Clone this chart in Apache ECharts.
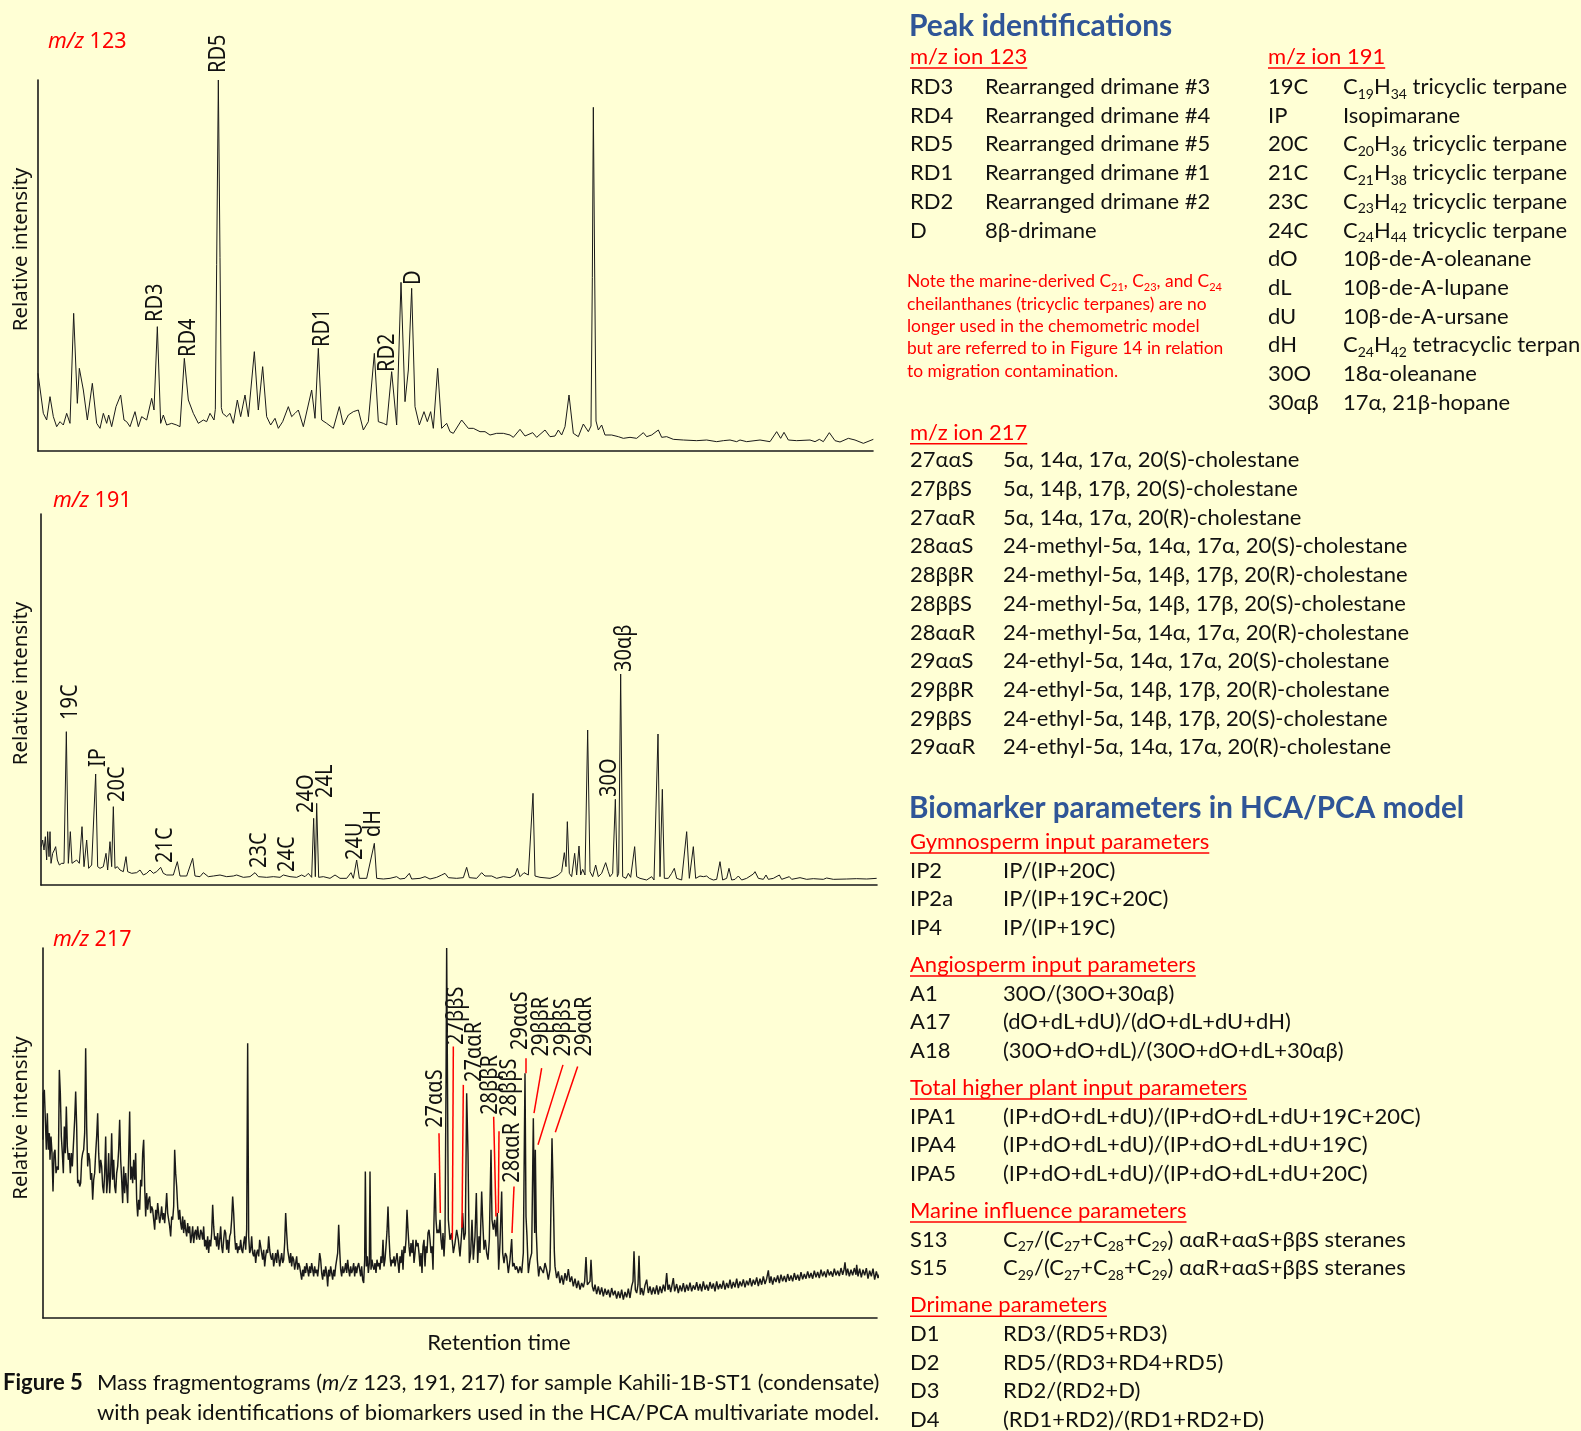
<!DOCTYPE html>
<html>
<head>
<meta charset="utf-8">
<script src="https://cdn.jsdelivr.net/npm/echarts/dist/echarts.min.js"></script>
<style>
  html, body { margin: 0; padding: 0; background: #FFFFD5; }
  #chart { width: 1581px; height: 1431px; }
</style>
</head>
<body>
<div id="chart"></div>
<script>
// ---- m/z 123 fragmentogram: [scan, abundance] ----
const trace123 = [
  [114,233],[130,113],[140,93],[150,163],[160,103],[170,73],[180,88],[190,78],[200,113],[210,83],
  [221,413],[232,143],[238,248],[250,183],[262,93],[277,203],[290,83],[300,68],[310,113],[320,83],
  [326,108],[335,73],[348,133],[362,168],[372,93],[380,88],[390,73],[405,118],[415,73],[425,103],
  [440,93],[455,158],[462,123],[472,373],[482,83],[490,108],[500,78],[515,83],[530,78],[540,73],
  [553,278],[565,153],[580,113],[595,83],[610,93],[620,88],[630,113],[642,93],[646,125],[650,560],
  [655,1113],[660,580],[664,130],[668,113],[680,103],[690,113],[700,83],[712,153],[722,103],[735,168],
  [745,103],[763,298],[775,123],[788,253],[800,103],[812,78],[825,98],[835,68],[848,88],[865,133],
  [875,103],[885,113],[895,123],[910,73],[935,183],[945,98],[955,308],[965,93],[980,83],[1000,68],
  [1018,133],[1030,78],[1045,108],[1060,118],[1075,123],[1090,63],[1105,88],[1123,293],[1135,88],[1150,83],
  [1160,78],[1175,238],[1190,78],[1203,506],[1215,148],[1225,243],[1235,488],[1245,133],[1258,78],[1272,118],
  [1282,88],[1292,118],[1300,68],[1313,248],[1325,68],[1340,83],[1350,58],[1360,53],[1385,93],[1405,68],
  [1420,68],[1440,58],[1455,58],[1470,48],[1490,53],[1510,53],[1530,48],[1540,41],[1560,65],[1575,45],
  [1598,55],[1610,41],[1635,63],[1650,43],[1665,45],[1675,63],[1685,48],[1695,73],[1707,168],[1720,53],
  [1735,43],[1750,81],[1765,58],[1773,75],[1777,520],[1780,1031],[1784,540],[1788,90],[1795,63],[1805,78],
  [1815,48],[1835,48],[1855,43],[1870,38],[1890,41],[1910,38],[1930,55],[1940,43],[1955,48],[1975,63],
  [1985,41],[2000,43],[2020,35],[2050,33],[2090,31],[2120,33],[2150,28],[2170,31],[2190,33],[2210,28],
  [2220,33],[2240,28],[2280,33],[2310,28],[2330,58],[2342,38],[2352,56],[2365,33],[2390,31],[2430,33],
  [2445,28],[2458,35],[2470,28],[2488,55],[2505,31],[2520,27],[2545,38],[2565,33],[2590,23],[2620,35]
];

// ---- m/z 191 fragmentogram ----
const trace191 = [
  [124,115],[128,135],[132,105],[136,145],[140,75],[143,160],[147,85],[150,160],[153,65],[158,95],
  [163,105],[167,115],[172,75],[178,60],[185,65],[192,65],[199,460],[205,65],[211,160],[216,65],
  [222,70],[230,75],[238,65],[246,175],[252,55],[260,135],[266,50],[275,60],[280,55],[287,333],
  [293,55],[300,50],[310,55],[318,95],[323,45],[330,130],[335,55],[340,235],[345,50],[352,55],
  [360,45],[370,40],[378,85],[383,40],[395,35],[410,37],[420,45],[430,30],[440,35],[450,45],
  [460,35],[470,40],[482,53],[490,35],[500,30],[520,30],[532,70],[540,27],[560,27],[578,80],
  [585,27],[600,25],[610,37],[625,25],[640,27],[660,30],[680,25],[700,27],[710,30],[730,23],
  [750,25],[765,37],[775,25],[800,23],[820,25],[825,30],[840,23],[850,30],[870,25],[890,23],
  [905,30],[915,25],[925,35],[935,23],[941,200],[946,25],[950,245],[956,23],[970,25],[990,20],
  [1005,30],[1020,20],[1040,20],[1053,37],[1060,20],[1070,75],[1078,20],[1100,20],[1123,125],[1130,20],
  [1150,18],[1170,20],[1190,25],[1200,18],[1215,20],[1228,35],[1235,18],[1260,20],[1275,25],[1290,18],
  [1310,23],[1325,30],[1335,35],[1345,22],[1370,20],[1390,22],[1400,53],[1408,22],[1430,20],[1445,37],
  [1455,27],[1475,27],[1490,20],[1510,25],[1530,22],[1545,30],[1552,50],[1560,25],[1572,37],[1585,30],
  [1590,35],[1599,275],[1605,27],[1620,23],[1650,20],[1665,25],[1675,30],[1685,40],[1693,97],[1698,55],
  [1702,190],[1708,35],[1715,25],[1724,95],[1730,30],[1737,117],[1742,30],[1748,47],[1755,30],[1763,465],
  [1770,40],[1778,25],[1787,60],[1795,25],[1805,35],[1817,67],[1825,40],[1830,25],[1838,35],[1846,257],
  [1852,25],[1856,35],[1862,633],[1868,25],[1878,20],[1885,35],[1892,23],[1898,17],[1904,115],[1910,25],
  [1920,20],[1940,15],[1955,25],[1962,15],[1974,453],[1980,25],[1987,287],[1993,20],[2005,20],[2015,35],
  [2023,50],[2030,20],[2045,15],[2060,160],[2068,20],[2080,115],[2087,20],[2100,27],[2110,25],[2120,27],
  [2128,20],[2140,15],[2150,17],[2160,70],[2168,15],[2180,20],[2187,50],[2195,15],[2205,17],[2215,27],
  [2225,15],[2240,20],[2260,33],[2265,40],[2275,20],[2290,17],[2298,30],[2305,17],[2320,20],[2338,30],
  [2345,17],[2368,25],[2375,17],[2400,22],[2420,17],[2440,19],[2470,17],[2480,21],[2500,17],[2540,18],
  [2570,19],[2600,18],[2630,20]
];

// ---- m/z 217 fragmentogram ----
const trace217 = [
  [129,535],[130,675],[133,685],[136,595],[139,505],[142,615],[145,505],[148,555],[150,475],[153,545],
  [156,495],[159,380],[162,495],[165,505],[168,435],[172,455],[175,445],[178,745],[181,675],[184,545],
  [187,495],[190,435],[193,575],[196,495],[199,635],[202,515],[205,475],[208,495],[211,435],[214,495],
  [217,455],[220,515],[224,595],[227,680],[230,575],[233,405],[236,415],[239,395],[242,405],[245,475],
  [248,495],[251,505],[254,555],[257,810],[260,575],[263,455],[266,495],[269,475],[272,415],[275,435],
  [278,355],[281,415],[284,435],[287,495],[290,545],[293,615],[296,495],[299,435],[302,475],[305,455],
  [308,395],[311,375],[314,435],[317,545],[320,375],[323,415],[326,495],[329,375],[332,435],[335,555],
  [338,415],[341,475],[344,395],[347,375],[350,435],[353,455],[356,505],[359,595],[362,475],[365,415],
  [368,345],[371,455],[374,375],[377,435],[380,395],[383,345],[386,485],[389,620],[392,415],[395,455],
  [398,405],[401,475],[404,415],[407,495],[410,355],[413,305],[416,355],[419,325],[422,415],[425,395],
  [428,495],[431,535],[434,395],[437,305],[440,375],[443,325],[446,355],[449,365],[452,315],[455,335],
  [458,325],[461,295],[464,265],[467,325],[470,295],[473,345],[476,315],[479,285],[482,305],[485,335],
  [488,295],[491,315],[494,285],[497,325],[500,375],[503,315],[506,295],[509,275],[512,245],[515,305],
  [518,295],[521,335],[524,505],[527,435],[530,395],[533,335],[536,295],[539,325],[542,285],[545,265],
  [548,305],[551,255],[554,295],[557,265],[560,245],[563,285],[566,255],[569,275],[572,225],[575,245],
  [578,275],[581,225],[584,255],[587,265],[590,235],[593,275],[596,245],[599,235],[602,265],[605,255],
  [608,235],[611,275],[614,215],[617,235],[620,205],[623,245],[626,195],[629,235],[632,215],[635,255],
  [638,340],[641,275],[644,235],[647,245],[650,215],[653,255],[656,205],[659,235],[662,275],[665,215],
  [668,195],[671,235],[674,265],[677,255],[680,205],[683,235],[686,195],[689,245],[692,255],[695,295],
  [698,365],[701,315],[704,245],[707,205],[710,225],[713,195],[716,215],[719,205],[722,235],[725,205],
  [728,195],[731,225],[734,245],[737,205],[740,265],[743,825],[746,245],[749,195],[752,205],[755,245],
  [758,195],[761,185],[764,205],[767,165],[770,195],[773,205],[776,185],[779,235],[782,215],[785,195],
  [788,175],[791,205],[794,155],[797,185],[800,205],[803,195],[806,245],[809,205],[812,185],[815,175],
  [818,195],[821,155],[824,175],[827,195],[830,165],[833,205],[836,185],[839,155],[842,175],[845,195],
  [848,165],[851,175],[854,225],[857,315],[860,255],[863,205],[866,185],[869,165],[872,195],[875,155],
  [878,185],[881,175],[884,145],[887,165],[890,185],[893,145],[896,165],[899,155],[902,135],[905,115],
  [908,145],[911,125],[914,155],[917,135],[920,165],[923,145],[926,125],[929,155],[932,135],[935,165],
  [938,145],[941,125],[944,155],[947,135],[950,145],[953,125],[956,155],[959,195],[962,175],[965,135],
  [968,115],[971,145],[974,125],[977,155],[980,135],[983,95],[986,145],[989,125],[992,155],[995,135],
  [998,115],[1001,145],[1004,125],[1007,155],[1010,175],[1013,195],[1016,280],[1019,205],[1022,145],[1025,125],
  [1028,155],[1031,135],[1034,145],[1037,165],[1040,135],[1043,175],[1046,145],[1049,125],[1052,155],[1055,135],
  [1058,145],[1061,165],[1064,125],[1067,155],[1070,135],[1073,155],[1076,165],[1079,145],[1082,125],[1085,155],
  [1088,115],[1091,105],[1094,175],[1096,440],[1099,155],[1102,185],[1105,135],[1108,165],[1110,440],[1113,145],
  [1116,175],[1119,155],[1122,145],[1125,165],[1128,135],[1131,175],[1134,155],[1137,165],[1140,145],[1143,185],
  [1146,165],[1149,235],[1152,155],[1155,175],[1158,215],[1161,260],[1164,335],[1167,245],[1170,185],[1173,155],
  [1176,175],[1179,165],[1182,185],[1185,155],[1188,175],[1191,195],[1194,165],[1197,135],[1200,185],[1203,165],
  [1206,205],[1209,145],[1212,215],[1215,195],[1218,235],[1221,325],[1224,265],[1227,215],[1230,185],[1233,225],
  [1236,195],[1239,235],[1242,165],[1245,195],[1248,235],[1251,215],[1254,225],[1257,195],[1260,155],[1263,195],
  [1266,135],[1269,215],[1272,235],[1275,155],[1278,215],[1281,195],[1284,255],[1287,265],[1290,235],[1293,195],
  [1296,215],[1299,145],[1302,295],[1305,435],[1308,295],[1311,255],[1314,265],[1317,255],[1320,295],[1323,235],
  [1326,205],[1329,255],[1332,185],[1335,245],[1338,695],[1340,1111],[1345,295],[1350,235],[1355,255],[1360,195],
  [1365,225],[1370,265],[1375,235],[1380,185],[1385,255],[1388,315],[1392,235],[1396,255],[1400,675],[1404,495],
  [1408,165],[1412,195],[1416,295],[1420,175],[1425,245],[1429,375],[1433,165],[1437,245],[1440,195],[1445,380],
  [1448,295],[1452,205],[1456,235],[1460,195],[1464,175],[1468,235],[1473,505],[1476,295],[1480,265],[1484,295],
  [1488,245],[1492,315],[1496,145],[1500,225],[1505,380],[1508,195],[1512,165],[1516,195],[1520,185],[1525,135],
  [1530,175],[1535,237],[1538,155],[1542,165],[1546,145],[1550,155],[1555,135],[1560,155],[1565,135],[1570,195],
  [1575,735],[1578,305],[1581,245],[1585,135],[1590,175],[1595,195],[1600,600],[1604,255],[1606,505],[1609,255],
  [1612,175],[1616,125],[1620,155],[1625,145],[1630,135],[1635,165],[1640,145],[1645,115],[1650,145],[1656,540],
  [1660,360],[1663,200],[1665,155],[1670,120],[1675,140],[1680,105],[1685,128],[1690,100],[1695,135],[1700,112],
  [1705,147],[1710,108],[1715,125],[1720,95],[1725,118],[1730,90],[1735,112],[1740,85],[1745,105],[1750,92],
  [1754,110],[1758,183],[1762,100],[1766,95],[1770,110],[1773,175],[1777,95],[1781,80],[1785,100],[1790,72],
  [1795,95],[1800,70],[1805,92],[1810,65],[1815,88],[1820,70],[1825,85],[1830,62],[1835,90],[1840,68],
  [1845,82],[1850,58],[1855,80],[1860,60],[1865,85],[1870,55],[1875,78],[1880,62],[1885,88],[1890,60],
  [1895,95],[1899,110],[1902,200],[1906,85],[1910,75],[1914,100],[1917,187],[1921,70],[1925,90],[1930,68],
  [1935,98],[1940,115],[1945,75],[1950,95],[1955,70],[1960,92],[1965,72],[1970,98],[1975,70],[1980,95],
  [1985,75],[1990,100],[1995,80],[2000,135],[2004,85],[2008,100],[2012,78],[2016,98],[2020,120],[2024,80],
  [2030,102],[2035,75],[2040,98],[2045,80],[2050,105],[2055,78],[2060,100],[2065,82],[2070,106],[2075,80],
  [2080,98],[2085,85],[2090,108],[2095,82],[2100,102],[2105,80],[2110,110],[2115,85],[2120,100],[2125,82],
  [2130,108],[2135,88],[2140,104],[2145,80],[2150,110],[2155,86],[2160,102],[2165,88],[2170,112],[2175,85],
  [2180,105],[2185,90],[2190,115],[2195,88],[2200,108],[2205,92],[2210,118],[2215,90],[2220,110],[2225,95],
  [2230,116],[2235,92],[2240,112],[2245,98],[2250,120],[2255,95],[2260,115],[2265,100],[2270,122],[2275,96],
  [2280,118],[2285,100],[2290,125],[2295,102],[2300,118],[2305,143],[2309,105],[2313,125],[2318,100],[2323,122],
  [2328,108],[2333,128],[2338,105],[2343,130],[2348,110],[2353,126],[2358,108],[2363,132],[2368,112],[2373,128],
  [2378,110],[2383,135],[2388,115],[2393,130],[2398,112],[2403,138],[2408,116],[2413,132],[2418,118],[2423,140],
  [2428,120],[2433,135],[2438,118],[2443,142],[2448,122],[2453,138],[2458,120],[2463,145],[2468,125],[2473,140],
  [2478,122],[2483,146],[2488,128],[2493,140],[2498,124],[2503,148],[2508,128],[2513,142],[2518,126],[2523,150],
  [2528,130],[2532,145],[2535,167],[2539,128],[2543,148],[2548,125],[2553,145],[2558,128],[2563,150],[2568,130],
  [2570,160],[2574,125],[2579,148],[2584,122],[2589,145],[2594,128],[2599,150],[2604,118],[2609,142],[2614,125],
  [2619,148],[2624,115],[2629,140],[2634,120],[2640,135]
];

// ---- peak annotations: [label, scan, abundance at the start of the label] ----
const peaks123 = [['RD3',465,387],['RD4',564,282],['RD5',654,1134],['RD1',966,312],['RD2',1161,237],['D',1239,498]];
const peaks191 = [['19C',210,495],['IP',294,354],['20C',351,249],['21C',495,66],['23C',777,51],['24C',861,39],
                  ['24O',918,216],['24L',975,261],['24U',1065,75],['dH',1119,144],['30O',1827,264],['30αβ',1872,639]];
const peaks217 = [['27ααS',1305,571],['27ββS',1370,820],['27ααR',1422,709],['28ββR',1470,610],['28ββS',1527,604],
                  ['28ααR',1538,406],['29ααS',1562,805],['29ββR',1625,785],['29ββS',1690,785],['29ααR',1752,785]];
// leader lines from each sterane label down to its peak: [[scan, ab], [scan, ab]]
const leaders217 = [
  [[1317,555],[1321,315]], [[1360,815],[1357,235]], [[1390,700],[1386,271]],
  [[1481,604],[1488,305]], [[1497,561],[1495,315]], [[1542,395],[1536,255]],
  [[1576,780],[1577,735]], [[1625,750],[1602,615]], [[1689,760],[1614,520]], [[1733,755],[1666,558]]
];

// ---- identification tables ----
const ion123Ids = [['RD3','Rearranged drimane #3'],['RD4','Rearranged drimane #4'],['RD5','Rearranged drimane #5'],
                   ['RD1','Rearranged drimane #1'],['RD2','Rearranged drimane #2'],['D','8β-drimane']];
const ion191Ids = [['19C','C_19H_34 tricyclic terpane'],['IP','Isopimarane'],['20C','C_20H_36 tricyclic terpane'],
                   ['21C','C_21H_38 tricyclic terpane'],['23C','C_23H_42 tricyclic terpane'],['24C','C_24H_44 tricyclic terpane'],
                   ['dO','10β-de-A-oleanane'],['dL','10β-de-A-lupane'],['dU','10β-de-A-ursane'],
                   ['dH','C_24H_42 tetracyclic terpane'],['30O','18α-oleanane'],['30αβ','17α, 21β-hopane']];
const ion217Ids = [['27ααS','5α, 14α, 17α, 20(S)-cholestane'],['27ββS','5α, 14β, 17β, 20(S)-cholestane'],
                   ['27ααR','5α, 14α, 17α, 20(R)-cholestane'],['28ααS','24-methyl-5α, 14α, 17α, 20(S)-cholestane'],
                   ['28ββR','24-methyl-5α, 14β, 17β, 20(R)-cholestane'],['28ββS','24-methyl-5α, 14β, 17β, 20(S)-cholestane'],
                   ['28ααR','24-methyl-5α, 14α, 17α, 20(R)-cholestane'],['29ααS','24-ethyl-5α, 14α, 17α, 20(S)-cholestane'],
                   ['29ββR','24-ethyl-5α, 14β, 17β, 20(R)-cholestane'],['29ββS','24-ethyl-5α, 14β, 17β, 20(S)-cholestane'],
                   ['29ααR','24-ethyl-5α, 14α, 17α, 20(R)-cholestane']];
const noteLines = ['Note the marine-derived C_21, C_23, and C_24','cheilanthanes (tricyclic terpanes) are no',
                   'longer used in the chemometric model','but are referred to in Figure 14 in relation',
                   'to migration contamination.'];
const paramGroups = [
  ['Gymnosperm input parameters', [['IP2','IP/(IP+20C)'],['IP2a','IP/(IP+19C+20C)'],['IP4','IP/(IP+19C)']]],
  ['Angiosperm input parameters', [['A1','30O/(30O+30αβ)'],['A17','(dO+dL+dU)/(dO+dL+dU+dH)'],['A18','(30O+dO+dL)/(30O+dO+dL+30αβ)']]],
  ['Total higher plant input parameters', [['IPA1','(IP+dO+dL+dU)/(IP+dO+dL+dU+19C+20C)'],['IPA4','(IP+dO+dL+dU)/(IP+dO+dL+dU+19C)'],['IPA5','(IP+dO+dL+dU)/(IP+dO+dL+dU+20C)']]],
  ['Marine influence parameters', [['S13','C_27/(C_27+C_28+C_29) ααR+ααS+ββS steranes'],['S15','C_29/(C_27+C_28+C_29) ααR+ααS+ββS steranes']]],
  ['Drimane parameters', [['D1','RD3/(RD5+RD3)'],['D2','RD5/(RD3+RD4+RD5)'],['D3','RD2/(RD2+D)'],['D4','(RD1+RD2)/(RD1+RD2+D)']]]
];

// ---------------------------------------------------------------------------
const INK = '#1a1a1a', RED = '#ff0000', BLUE = '#2F5597';
const PANEL_FONT = 'Lato', CHART_FONT = '"Noto Sans", "Open Sans", sans-serif';

const chart = echarts.init(document.getElementById('chart'), null, { renderer: 'canvas' });

const grids = [
  { left: 38, top: 80,  width: 835, height: 371 },
  { left: 41, top: 514, width: 836, height: 371 },
  { left: 43, top: 948, width: 834, height: 370 }
];
const xRange = [[114, 2619], [123, 2631], [129, 2631]];
const yMax = [1113, 1113, 1111];
const traces = [trace123, trace191, trace217];
const traceWidth = [1, 1, 1.45];

function axisCommon() {
  return {
    axisLine: { show: true, onZero: false, lineStyle: { color: INK, width: 1.6 } },
    axisTick: { show: false }, axisLabel: { show: false }, splitLine: { show: false }
  };
}

const option = {
  backgroundColor: '#FFFFD5',
  animation: false,
  grid: grids.map(g => Object.assign({ containLabel: false }, g)),
  xAxis: grids.map((g, i) => Object.assign({ type: 'value', gridIndex: i, min: xRange[i][0], max: xRange[i][1] }, axisCommon())),
  yAxis: grids.map((g, i) => Object.assign({ type: 'value', gridIndex: i, min: 0, max: yMax[i] }, axisCommon())),
  series: traces.map((d, i) => ({
    type: 'line', xAxisIndex: i, yAxisIndex: i, data: d,
    symbol: 'none', showSymbol: false, silent: true,
    lineStyle: { color: INK, width: traceWidth[i] },
    markLine: i === 2 ? {
      silent: true, symbol: ['none', 'none'], label: { show: false },
      lineStyle: { color: RED, width: 1.5, type: 'solid' },
      data: leaders217.map(([a, b]) => [{ coord: a }, { coord: b }])
    } : undefined
  }))
};
chart.setOption(option);

// ---- text helpers ----
const measureCtx = document.createElement('canvas').getContext('2d');
function textWidth(str, size, weight) {
  measureCtx.font = (weight || 'normal') + ' ' + size + 'px ' + PANEL_FONT;
  return measureCtx.measureText(str).width;
}
// "C_19H_34" -> rich tokens with subscripts
function toRich(str, base, sub) {
  return str.split(/_(\d+)/).map((p, i) => p ? '{' + (i % 2 ? sub : base) + '|' + p + '}' : '').join('');
}
function richStyles(size, color, lh) {
  const subSize = Math.round(size * 0.62);
  return {
    n: { fontFamily: PANEL_FONT, fontSize: size, fill: color, lineHeight: lh, verticalAlign: 'middle' },
    s: { fontFamily: PANEL_FONT, fontSize: subSize, fill: color, lineHeight: subSize, verticalAlign: 'bottom' }
  };
}
function panelText(x, y, str, size, color, weight) {
  if (str.indexOf('_') >= 0) {
    return { type: 'text', x: x, y: y, silent: true,
      style: { text: toRich(str, 'n', 's'), rich: richStyles(size, color, Math.round(size * 1.27)),
               align: 'left', verticalAlign: 'middle' } };
  }
  return { type: 'text', x: x, y: y, silent: true,
    style: { text: str, fontFamily: PANEL_FONT, fontSize: size, fontWeight: weight || 'normal',
             fill: color, align: 'left', verticalAlign: 'middle' } };
}
function underlined(x, y, str, size) {
  const w = textWidth(str, size);
  return [panelText(x, y, str, size, RED),
    { type: 'line', silent: true, shape: { x1: x, y1: y + size * 0.5, x2: x + w, y2: y + size * 0.5 },
      style: { stroke: RED, lineWidth: 1.5 } }];
}

const G = [];
const BODY = 22, ROW = 28.7, TEXT = '#111111';

// right-hand panel: peak identifications
G.push(panelText(909, 26, 'Peak identifications', 30, BLUE, 'bold'));
G.push(...underlined(910, 57, 'm/z ion 123', BODY));
ion123Ids.forEach(([c, d], k) => {
  G.push(panelText(910, 87 + k * ROW, c, BODY, TEXT));
  G.push(panelText(985, 87 + k * ROW, d, BODY, TEXT));
});
G.push(...underlined(1268, 57, 'm/z ion 191', BODY));
ion191Ids.forEach(([c, d], k) => {
  G.push(panelText(1268, 87 + k * ROW, c, BODY, TEXT));
  G.push(panelText(1343, 87 + k * ROW, d, BODY, TEXT));
});
noteLines.forEach((l, k) => G.push(panelText(907, 281.5 + k * 22.4, l, 17.4, RED)));
G.push(...underlined(910, 432.7, 'm/z ion 217', BODY));
ion217Ids.forEach(([c, d], k) => {
  G.push(panelText(910, 460.3 + k * ROW, c, BODY, TEXT));
  G.push(panelText(1003, 460.3 + k * ROW, d, BODY, TEXT));
});

// biomarker parameters
G.push(panelText(909, 808.5, 'Biomarker parameters in HCA/PCA model', 29.6, BLUE, 'bold'));
let yCur = 842;
paramGroups.forEach(([title, rows]) => {
  G.push(...underlined(910, yCur, title, BODY));
  rows.forEach(([c, d], k) => {
    G.push(panelText(910, yCur + (k + 1) * ROW, c, BODY, TEXT));
    G.push(panelText(1003, yCur + (k + 1) * ROW, d, BODY, TEXT));
  });
  yCur += rows.length * ROW + 36.9;
});

// chart titles (m/z italic)
[[48, 42, '123'], [53, 500.5, '191'], [53, 939.5, '217']].forEach(([x, y, ion]) => {
  G.push({ type: 'text', x: x, y: y, silent: true, style: {
    text: '{i|m/z}{r| ' + ion + '}', align: 'left', verticalAlign: 'middle',
    rich: { i: { fontFamily: CHART_FONT, fontSize: 21.5, fontStyle: 'italic', fill: RED },
            r: { fontFamily: CHART_FONT, fontSize: 21.5, fill: RED } } } });
});

// y-axis titles
grids.forEach((g, i) => {
  G.push({ type: 'text', x: 21, y: g.top + g.height / 2 - 16 + (i === 2 ? 1 : 0), rotation: Math.PI / 2, silent: true,
    style: { text: 'Relative intensity', fontFamily: CHART_FONT, fontSize: 20.5, fill: TEXT,
             align: 'center', verticalAlign: 'middle' } });
});

// x-axis title and caption
G.push({ type: 'text', x: 499, y: 1343, silent: true,
  style: { text: 'Retention time', fontFamily: PANEL_FONT, fontSize: 22, fill: TEXT, align: 'center', verticalAlign: 'middle' } });
G.push(panelText(3, 1383, 'Figure 5', 22, TEXT, 'bold'));
G.push({ type: 'text', x: 97, y: 1383, silent: true, style: {
  text: '{n|Mass fragmentograms (}{i|m/z}{n| 123, 191, 217) for sample Kahili-1B-ST1 (condensate)}',
  align: 'left', verticalAlign: 'middle',
  rich: { n: { fontFamily: PANEL_FONT, fontSize: 22, fill: TEXT },
          i: { fontFamily: PANEL_FONT, fontSize: 22, fontStyle: 'italic', fill: TEXT } } } });
G.push(panelText(97, 1413, 'with peak identifications of biomarkers used in the HCA/PCA multivariate model.', 22, TEXT));

// rotated peak labels placed through each grid's axes
function peakLabels(gridIndex, list) {
  list.forEach(([name, scan, ab]) => {
    const p = chart.convertToPixel({ gridIndex: gridIndex }, [scan, ab]);
    G.push({ type: 'text', x: p[0], y: p[1], rotation: Math.PI / 2, scaleX: 0.87, silent: true,
      style: { text: name, fontFamily: CHART_FONT, fontSize: 23, fill: TEXT, align: 'left', verticalAlign: 'middle' } });
  });
}
peakLabels(0, peaks123);
peakLabels(1, peaks191);
peakLabels(2, peaks217);

chart.setOption({ graphic: { elements: G } });
</script>
</body>
</html>
